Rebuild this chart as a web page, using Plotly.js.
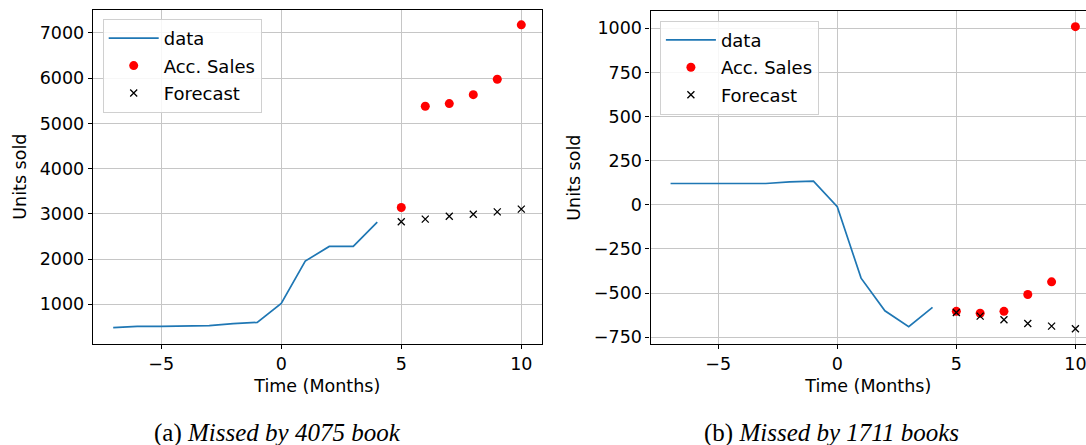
<!DOCTYPE html>
<html>
<head>
<meta charset="utf-8">
<script src="https://cdn.plot.ly/plotly-3.0.1.min.js"></script>
<style>html,body{margin:0;padding:0;background:#fff;}#chart{width:1086px;height:445px;}</style>
</head>
<body>
<div id="chart"></div>
<script>
// ---- data ----
const monthsHist = [-7, -6, -5, -4, -3, -2, -1, 0, 1, 2, 3, 4];
const monthsFc = [5, 6, 7, 8, 9, 10];

const dataA = [484, 514, 514, 521, 528, 572, 602, 1022, 1956, 2281, 2281, 2818];
const accSalesA = [3142, 5380, 5439, 5637, 5976, 7180];
const forecastA = [2826, 2884, 2948, 2992, 3045, 3105];

const dataB = [121, 121, 121, 121, 121, 130, 134, -11, -415, -600, -690, -581];
const accSalesB = [-603, -614, -603, -508, -436, 1009];
const forecastB = [-610, -630, -651, -672, -687, -702];

const seriesNames = ["data", "Acc. Sales", "Forecast"];
const captionA = "(a) <i>Missed by 4075 book</i>";
const captionB = "(b) <i>Missed by 1711 books</i>";
const xTitle = "Time (Months)";
const yTitle = "Units sold";

// ---- styles ----
const blue = "#1f77b4";
const sans = "DejaVu Sans";
const fs = 17.5;

function traces(x1, y1, x2, y2, y3, xa, ya, lg) {
  return [
    {x: x1, y: y1, xaxis: xa, yaxis: ya, legend: lg, name: seriesNames[0], legendgroup: lg + "a",
     type: "scatter", mode: "lines", line: {color: blue, width: 1.7}},
    {x: x2, y: y2, xaxis: xa, yaxis: ya, legend: lg, name: seriesNames[1], legendgroup: lg + "b",
     type: "scatter", mode: "markers", marker: {color: "red", size: 9, symbol: "circle"}},
    {x: x2, y: y3, xaxis: xa, yaxis: ya, legend: lg, name: seriesNames[2], legendgroup: lg + "c",
     type: "scatter", mode: "markers",
     marker: {color: "black", size: 7, symbol: "x-thin-open", line: {color: "black", width: 1.3}}}
  ];
}

const data = [].concat(
  traces(monthsHist, dataA, monthsFc, accSalesA, forecastA, "x", "y", "legend"),
  traces(monthsHist, dataB, monthsFc, accSalesB, forecastB, "x2", "y2", "legend2")
);

function xaxis(domain, range, mirror) {
  return {
    domain: domain, range: range,
    tickmode: "linear", tick0: 0, dtick: 5,
    showgrid: true, gridcolor: "#c6c6c6", gridwidth: 1,
    zeroline: false, showline: true, linecolor: "black", linewidth: 1.1, mirror: mirror,
    ticks: "outside", ticklen: 4, tickwidth: 1, tickcolor: "black",
    ticklabeloverflow: "allow",
    tickfont: {family: sans, size: fs, color: "black"},
    title: {text: xTitle, font: {family: sans, size: fs, color: "black"}, standoff: 6}
  };
}
function yaxis(domain, range, dtick) {
  return {
    domain: domain, range: range,
    tickmode: "linear", tick0: 0, dtick: dtick,
    showgrid: true, gridcolor: "#c6c6c6", gridwidth: 1,
    zeroline: false, showline: true, linecolor: "black", linewidth: 1.1, mirror: false,
    ticks: "outside", ticklen: 4, tickwidth: 1, tickcolor: "black",
    tickfont: {family: sans, size: fs, color: "black"},
    title: {text: yTitle, font: {family: sans, size: fs, color: "black"}, standoff: 8}
  };
}

const xa1 = xaxis([92.8 / 1086, 541.7 / 1086], [-7.85, 10.85], true);
xa1.anchor = "y";
const ya1 = yaxis([(445 - 343.7) / 445, (445 - 9.7) / 445], [130, 7515], 1000);
ya1.anchor = "x";
ya1.mirror = true;
const xa2 = xaxis([650.5 / 1086, 1], [-7.843, 10.445], true);
xa2.anchor = "y2";
const ya2 = yaxis([(445 - 344) / 445, (445 - 11.3) / 445], [-788, 1096], 250);
ya2.anchor = "x2";

const legendStyle = {
  xanchor: "left", yanchor: "top",
  bgcolor: "rgba(255,255,255,0.85)", bordercolor: "#d0d0d0", borderwidth: 1,
  font: {family: sans, size: 18, color: "black"},
  traceorder: "grouped", tracegroupgap: 1, itemwidth: 50
};

const layout = {
  width: 1086, height: 445,
  margin: {l: 0, r: 0, t: 0, b: 0},
  paper_bgcolor: "white", plot_bgcolor: "white",
  showlegend: true,
  xaxis: xa1, yaxis: ya1, xaxis2: xa2, yaxis2: ya2,
  legend: Object.assign({x: 102.7 / 1086, y: (445 - 19) / 445}, legendStyle),
  legend2: Object.assign({x: 659.9 / 1086, y: (445 - 20.7) / 445}, legendStyle),
  annotations: [
    {text: captionA, xref: "paper", yref: "paper", x: 277 / 1086, y: (445 - 433) / 445,
     xanchor: "center", yanchor: "middle", showarrow: false,
     font: {family: "Liberation Serif", size: 25, color: "black"}},
    {text: captionB, xref: "paper", yref: "paper", x: 831 / 1086, y: (445 - 433) / 445,
     xanchor: "center", yanchor: "middle", showarrow: false,
     font: {family: "Liberation Serif", size: 25, color: "black"}}
  ]
};

Plotly.newPlot("chart", data, layout, {displayModeBar: false, responsive: false});
</script>
</body>
</html>
